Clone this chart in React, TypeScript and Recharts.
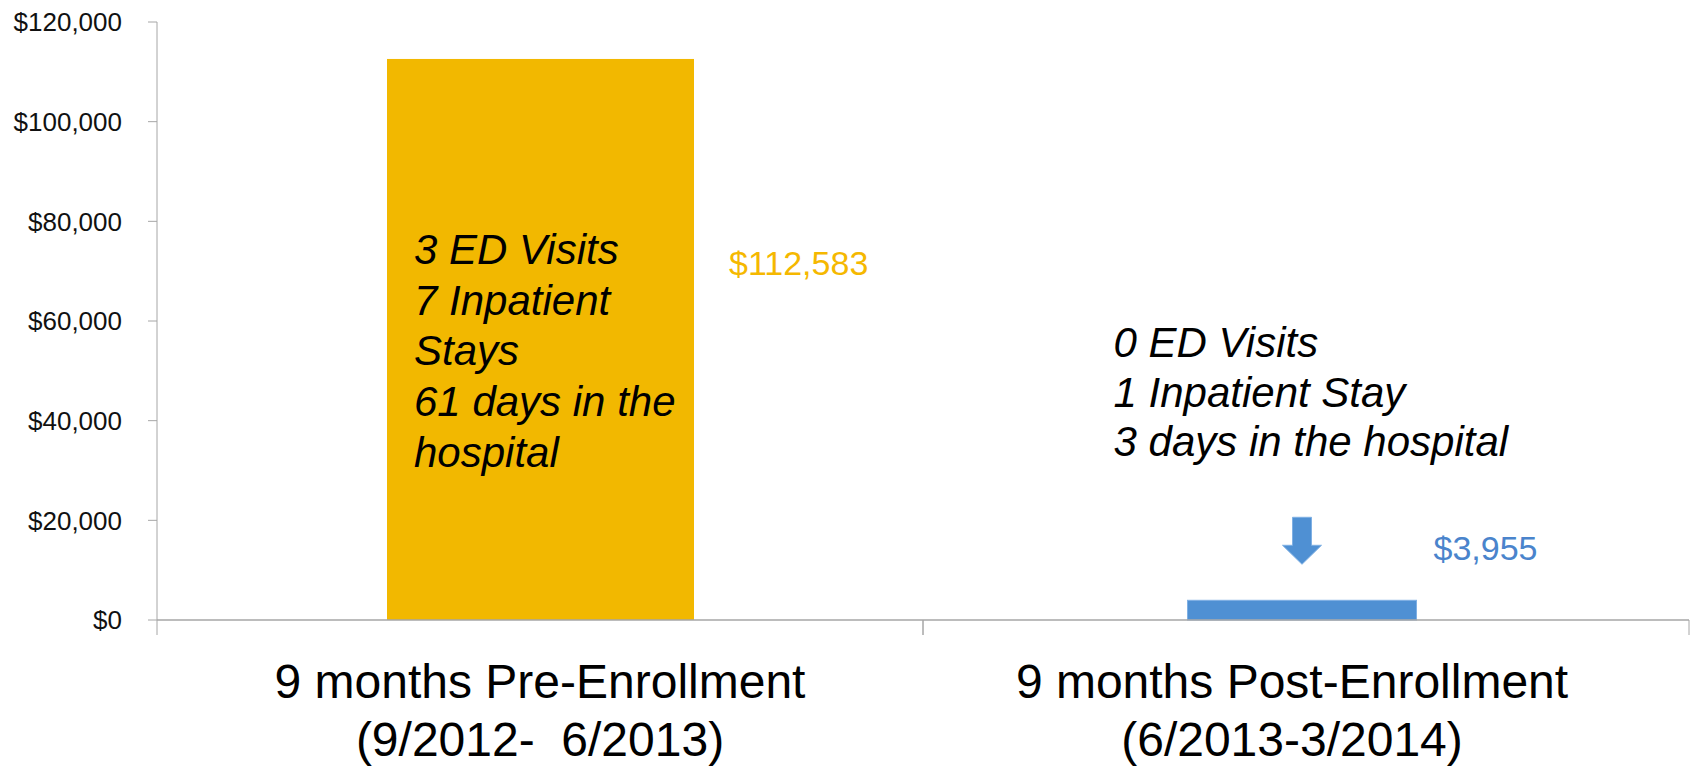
import { Bar, BarChart, XAxis, YAxis } from "recharts";

const categories = ["9 months Pre-Enrollment", "9 months Post-Enrollment"];
const periods = ["(9/2012-  6/2013)", "(6/2013-3/2014)"];
const costs = [112583, 3955];
const notes = [
  ["3 ED Visits", "7 Inpatient", "Stays", "61 days in the", "hospital"],
  ["0 ED Visits", "1 Inpatient Stay", "3 days in the hospital"],
];
const yTicks = [0, 20000, 40000, 60000, 80000, 100000, 120000];

const W = 1694;
const H = 766;
const margin = { top: 22, right: 5, left: 0, bottom: 0 };
const yAxisWidth = 157;
const band = (W - margin.left - margin.right - yAxisWidth) / categories.length;

const font = "'Liberation Sans', Arial, sans-serif";
const gold = "#F2B800";
const blue = "#4F90D3";
const axis = "#A6A6A6";

// small nudges so the labels sit where the original slide put them
const labelShift = [0, -14];
const postShift = -4.5;

const rows = categories.map((name, i) => ({ name, period: periods[i], cost: costs[i], notes: notes[i] }));

const money = (v: number) => "$" + v.toLocaleString("en-US");

function CategoryTick(props: any) {
  const { x, y, payload, index } = props;
  const row = rows[index] ?? rows.find((r) => r.name === payload.value);
  const top = y - 8;
  const tx = x + (labelShift[index] ?? 0);
  return (
    <g>
      <line x1={x - band / 2} x2={x - band / 2} y1={top} y2={top + 15} stroke={axis} />
      <line x1={x + band / 2} x2={x + band / 2} y1={top} y2={top + 15} stroke={axis} />
      <text x={tx} y={top + 78} textAnchor="middle" fontSize={48} fontFamily={font} fill="#000">
        {payload.value}
      </text>
      <text x={tx} y={top + 136} textAnchor="middle" fontSize={48} fontFamily={font} fill="#000" style={{ whiteSpace: "pre" }}>
        {row?.period}
      </text>
    </g>
  );
}

function CostBar(props: any) {
  const { x, y, width, height, index, payload } = props;
  const post = index === 1;
  const w = post ? width * (229 / 307) : width;
  const bx = x + (width - w) / 2 + (post ? postShift : 0);
  const cx = bx + w / 2;
  const lines: string[] = payload.notes;

  if (!post) {
    return (
      <g>
        <rect x={bx} y={y} width={w} height={height} fill={gold} />
        <text fontSize={42} fontStyle="italic" fontFamily={font} fill="#000">
          {lines.map((t, i) => (
            <tspan key={i} x={bx + 27} y={y + 205 + i * 50.7}>
              {t}
            </tspan>
          ))}
        </text>
        <text x={bx + w + 35} y={y + 216} fontSize={34} fontFamily={font} fill="#F5B800">
          {money(payload.cost)}
        </text>
      </g>
    );
  }

  return (
    <g>
      <rect x={bx} y={y} width={w} height={height} fill={blue} stroke="#7FB0E4" strokeWidth={1} />
      <path
        d={`M${cx - 9.5},${y - 83} L${cx + 9.5},${y - 83} L${cx + 9.5},${y - 55} L${cx + 19.5},${y - 55} L${cx},${y - 36} L${cx - 19.5},${y - 55} L${cx - 9.5},${y - 55} Z`}
        fill={blue}
        stroke="#7FB0E4"
        strokeWidth={1}
      />
      <text fontSize={42} fontStyle="italic" fontFamily={font} fill="#000">
        {lines.map((t, i) => (
          <tspan key={i} x={bx - 74} y={y - 243 + i * 49.5}>
            {t}
          </tspan>
        ))}
      </text>
      <text x={bx + w + 17} y={y - 40} fontSize={34} fontFamily={font} fill="#4A84CC">
        {money(payload.cost)}
      </text>
    </g>
  );
}

export default function App() {
  return (
    <div style={{ position: "absolute", left: 0, top: 0, width: W, height: H, background: "#fff" }}>
      <BarChart width={W} height={H} data={rows} margin={margin} barCategoryGap={0}>
        <XAxis
          dataKey="name"
          interval={0}
          height={H - margin.top - 598}
          tickLine={false}
          axisLine={{ stroke: axis, strokeWidth: 1.5 }}
          tick={<CategoryTick />}
        />
        <YAxis
          width={yAxisWidth}
          domain={[0, 120000]}
          ticks={yTicks}
          interval={0}
          tickSize={9}
          tickMargin={26}
          tickFormatter={(v) => money(Number(v))}
          tick={{ fill: "#111", fontSize: 26, fontFamily: font }}
          stroke={axis}
        />
        <Bar dataKey="cost" barSize={307} shape={<CostBar />} isAnimationActive={false} />
      </BarChart>
    </div>
  );
}
